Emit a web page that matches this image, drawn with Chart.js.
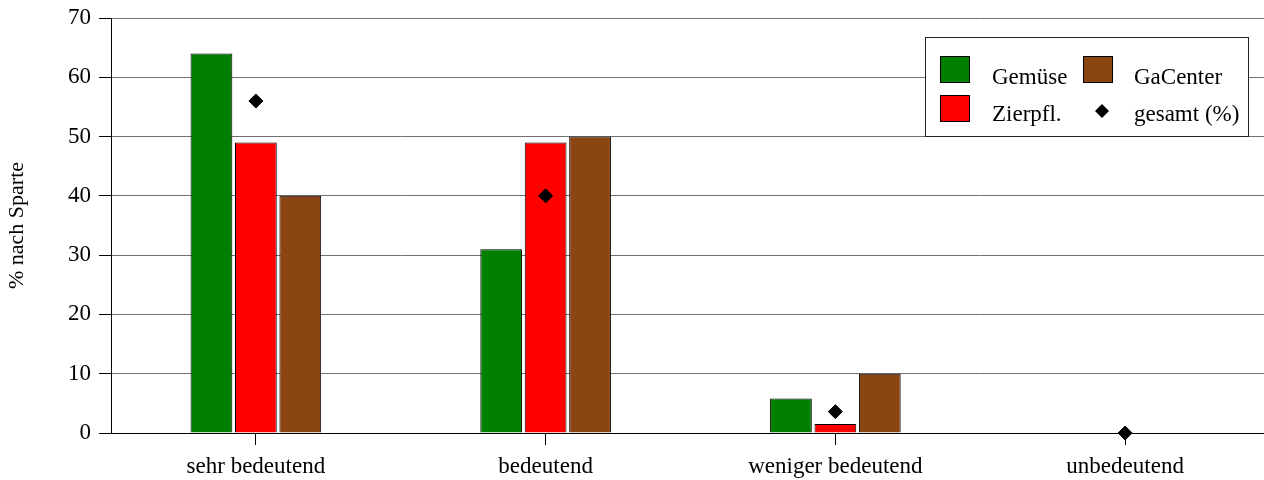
<!DOCTYPE html>
<html>
<head>
<meta charset="utf-8">
<script src="https://cdn.jsdelivr.net/npm/chart.js@4"></script>
<style>
  html, body { margin: 0; padding: 0; background: #fff; overflow: hidden; }
  /* plot runs off the right edge in the reference, so the canvas is a bit wider than the window */
  #wrap { width: 1278px; height: 480px; }
</style>
</head>
<body>
<div id="wrap"><canvas id="chart"></canvas></div>
<script>
// --- data ---
const categories = ["sehr bedeutend", "bedeutend", "weniger bedeutend", "unbedeutend"];
const gemuese    = [64, 31, 5.8, 0];
const zierpfl    = [49, 49, 1.5, 0];
const gaCenter   = [40, 50, 10, 0];
const gesamt     = [56, 40, 3.6, 0];
const yTicks     = [0, 10, 20, 30, 40, 50, 60, 70];

const FONT = "'Liberation Serif', 'DejaVu Serif', serif";

// --- legend drawn inside the plot, two columns ---
const boxLegend = {
  id: "boxLegend",
  afterDraw(chart) {
    const ctx = chart.ctx;
    const ds = chart.data.datasets;
    const x0 = 925, y0 = 37, w = 323, h = 99;
    ctx.save();
    ctx.fillStyle = "#fff";
    ctx.fillRect(x0, y0, w, h);
    ctx.strokeStyle = "#222";
    ctx.lineWidth = 1;
    ctx.strokeRect(x0 + 0.5, y0 + 0.5, w, h);
    ctx.font = "23px " + FONT;
    ctx.textBaseline = "alphabetic";
    // [dataset index, swatch x, swatch y, text x, text y]
    const items = [
      [0, 940, 56, 992, 84],
      [1, 940, 95, 992, 121],
      [2, 1083, 56, 1134, 84],
      [3, 1083, 95, 1134, 121],
    ];
    items.forEach(([i, sx, sy, tx, ty]) => {
      const d = ds[i];
      if (d.type === "line") {
        ctx.fillStyle = "#000";
        ctx.beginPath();
        const cx = sx + 19, cy = sy + 16, r = 7;
        ctx.moveTo(cx, cy - r); ctx.lineTo(cx + r, cy); ctx.lineTo(cx, cy + r); ctx.lineTo(cx - r, cy);
        ctx.closePath(); ctx.fill();
      } else {
        ctx.fillStyle = d.backgroundColor;
        ctx.fillRect(sx, sy, 30, 27);
        ctx.strokeStyle = "#000";
        ctx.strokeRect(sx + 0.5, sy + 0.5, 29, 26);
      }
      ctx.fillStyle = "#000";
      ctx.fillText(d.label, tx, ty);
    });
    ctx.restore();
  }
};

const barStyle = { borderColor: "#000", borderWidth: 1, categoryPercentage: 0.46, barPercentage: 0.94 };

new Chart(document.getElementById("chart"), {
  type: "bar",
  data: {
    labels: categories,
    datasets: [
      { label: "Gemüse",   data: gemuese,  backgroundColor: "#007f00", ...barStyle, order: 2 },
      { label: "Zierpfl.", data: zierpfl,  backgroundColor: "#ff0000", ...barStyle, order: 2 },
      { label: "GaCenter", data: gaCenter, backgroundColor: "#8b4513", ...barStyle, order: 2 },
      { label: "gesamt (%)", data: gesamt, type: "line", showLine: false, order: 1,
        pointStyle: "rectRot", pointRadius: 7, pointBackgroundColor: "#000", pointBorderColor: "#000",
        clip: false },
    ]
  },
  options: {
    responsive: true,
    maintainAspectRatio: false,
    animation: false,
    layout: { padding: { top: 18, right: 0, left: 0, bottom: 0 } },
    plugins: { legend: { display: false }, tooltip: { enabled: false } },
    scales: {
      x: {
        grid: { display: true, drawOnChartArea: false, offset: false, drawTicks: true, tickLength: 12, tickColor: "#000" },
        border: { color: "#000", width: 1 },
        ticks: { color: "#000", font: { family: FONT, size: 23 }, padding: 8 },
        afterFit(scale) { scale.height = 47; scale.paddingLeft = 0; scale.paddingRight = 0; }
      },
      y: {
        min: 0, max: 70,
        afterBuildTicks(scale) { scale.ticks = yTicks.map(v => ({ value: v })); },
        grid: { color: "#707070", tickColor: "#000", tickLength: 12 },
        border: { color: "#000", width: 1 },
        ticks: { color: "#000", font: { family: FONT, size: 23 }, padding: 8 },
        title: { display: true, text: "% nach Sparte", color: "#000", font: { family: FONT, size: 22 }, padding: { top: 4, bottom: 14 } },
        afterFit(scale) { scale.width = 111; scale.paddingTop = 0; scale.paddingBottom = 0; }
      }
    }
  },
  plugins: [boxLegend]
});
</script>
</body>
</html>
